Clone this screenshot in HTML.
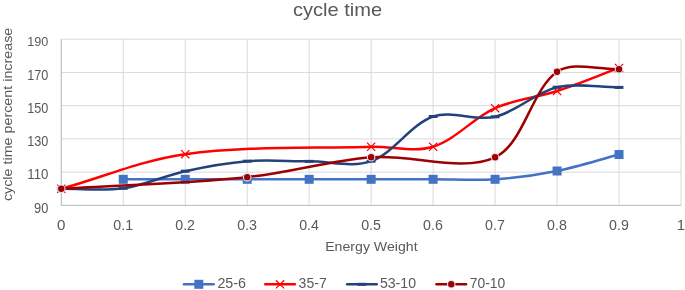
<!DOCTYPE html>
<html><head><meta charset="utf-8"><title>cycle time</title>
<style>
html,body{margin:0;padding:0;background:#fff;}
body{width:685px;height:290px;overflow:hidden;font-family:"Liberation Sans",sans-serif;}
svg{display:block;will-change:transform;}
</style></head><body>
<svg width="685" height="290" viewBox="0 0 685 290">
<rect width="685" height="290" fill="#ffffff"/>
<line x1="61.3" x2="681.0" y1="205.40" y2="205.40" stroke="#D9D9D9" stroke-width="1"/>
<line x1="61.3" x2="681.0" y1="172.16" y2="172.16" stroke="#D9D9D9" stroke-width="1"/>
<line x1="61.3" x2="681.0" y1="138.92" y2="138.92" stroke="#D9D9D9" stroke-width="1"/>
<line x1="61.3" x2="681.0" y1="105.68" y2="105.68" stroke="#D9D9D9" stroke-width="1"/>
<line x1="61.3" x2="681.0" y1="72.44" y2="72.44" stroke="#D9D9D9" stroke-width="1"/>
<line x1="61.3" x2="681.0" y1="39.20" y2="39.20" stroke="#D9D9D9" stroke-width="1"/>
<line x1="61.30" x2="61.30" y1="39.2" y2="205.4" stroke="#D9D9D9" stroke-width="1"/>
<line x1="123.27" x2="123.27" y1="39.2" y2="205.4" stroke="#D9D9D9" stroke-width="1"/>
<line x1="185.24" x2="185.24" y1="39.2" y2="205.4" stroke="#D9D9D9" stroke-width="1"/>
<line x1="247.21" x2="247.21" y1="39.2" y2="205.4" stroke="#D9D9D9" stroke-width="1"/>
<line x1="309.18" x2="309.18" y1="39.2" y2="205.4" stroke="#D9D9D9" stroke-width="1"/>
<line x1="371.15" x2="371.15" y1="39.2" y2="205.4" stroke="#D9D9D9" stroke-width="1"/>
<line x1="433.12" x2="433.12" y1="39.2" y2="205.4" stroke="#D9D9D9" stroke-width="1"/>
<line x1="495.09" x2="495.09" y1="39.2" y2="205.4" stroke="#D9D9D9" stroke-width="1"/>
<line x1="557.06" x2="557.06" y1="39.2" y2="205.4" stroke="#D9D9D9" stroke-width="1"/>
<line x1="619.03" x2="619.03" y1="39.2" y2="205.4" stroke="#D9D9D9" stroke-width="1"/>
<line x1="681.00" x2="681.00" y1="39.2" y2="205.4" stroke="#D9D9D9" stroke-width="1"/>
<line x1="61.30" x2="681.00" y1="205.40" y2="205.40" stroke="#BFBFBF" stroke-width="1"/>
<line x1="61.30" x2="61.30" y1="39.20" y2="205.40" stroke="#BFBFBF" stroke-width="1"/>
<path d="M123.27,179.31 C143.93,179.31 164.58,179.31 185.24,179.31 C205.90,179.31 226.55,179.31 247.21,179.31 C267.87,179.31 288.52,179.31 309.18,179.31 C329.84,179.31 350.49,179.31 371.15,179.31 C391.81,179.31 412.46,179.31 433.12,179.31 C453.78,179.31 474.53,180.69 495.09,179.31 C515.84,177.92 536.66,175.07 557.06,171.00 C577.98,166.82 598.37,160.03 619.03,154.54" fill="none" stroke="#4472C4" stroke-width="2.5" stroke-linecap="round" stroke-linejoin="round"/>
<rect x="118.77" y="174.81" width="9" height="9" fill="#4472C4"/>
<rect x="180.74" y="174.81" width="9" height="9" fill="#4472C4"/>
<rect x="242.71" y="174.81" width="9" height="9" fill="#4472C4"/>
<rect x="304.68" y="174.81" width="9" height="9" fill="#4472C4"/>
<rect x="366.65" y="174.81" width="9" height="9" fill="#4472C4"/>
<rect x="428.62" y="174.81" width="9" height="9" fill="#4472C4"/>
<rect x="490.59" y="174.81" width="9" height="9" fill="#4472C4"/>
<rect x="552.56" y="166.50" width="9" height="9" fill="#4472C4"/>
<rect x="614.53" y="150.04" width="9" height="9" fill="#4472C4"/>
<path d="M61.30,188.78 C102.61,177.26 143.01,159.94 185.24,154.21 C246.30,145.92 309.17,148.60 371.15,146.73 C391.79,146.11 414.15,152.63 433.12,146.73 C455.46,139.78 473.12,118.04 495.09,108.17 C514.44,99.48 536.70,97.66 557.06,91.05 C578.01,84.26 598.37,75.65 619.03,67.95" fill="none" stroke="#FF0000" stroke-width="2.5" stroke-linecap="round" stroke-linejoin="round"/>
<path d="M57.20,184.68 l8.2,8.2 m0,-8.2 l-8.2,8.2" stroke="#FF0000" stroke-width="1.25" fill="none"/>
<path d="M181.14,150.11 l8.2,8.2 m0,-8.2 l-8.2,8.2" stroke="#FF0000" stroke-width="1.25" fill="none"/>
<path d="M367.05,142.63 l8.2,8.2 m0,-8.2 l-8.2,8.2" stroke="#FF0000" stroke-width="1.25" fill="none"/>
<path d="M429.02,142.63 l8.2,8.2 m0,-8.2 l-8.2,8.2" stroke="#FF0000" stroke-width="1.25" fill="none"/>
<path d="M490.99,104.07 l8.2,8.2 m0,-8.2 l-8.2,8.2" stroke="#FF0000" stroke-width="1.25" fill="none"/>
<path d="M552.96,86.95 l8.2,8.2 m0,-8.2 l-8.2,8.2" stroke="#FF0000" stroke-width="1.25" fill="none"/>
<path d="M614.93,63.85 l8.2,8.2 m0,-8.2 l-8.2,8.2" stroke="#FF0000" stroke-width="1.25" fill="none"/>
<path d="M61.30,188.78 C81.96,188.61 102.99,191.16 123.27,188.28 C144.31,185.29 164.34,175.73 185.24,171.16 C205.65,166.70 226.42,162.84 247.21,161.19 C267.73,159.57 288.52,161.36 309.18,161.36 C329.84,161.36 352.65,167.89 371.15,161.19 C393.96,152.93 410.31,124.65 433.12,116.48 C451.62,109.86 475.49,121.44 495.09,116.82 C516.81,111.69 535.34,92.39 557.06,87.23 C576.66,82.58 598.37,87.34 619.03,87.40" fill="none" stroke="#23427C" stroke-width="2.5" stroke-linecap="round" stroke-linejoin="round"/>
<rect x="56.90" y="187.28" width="8.8" height="3.0" fill="#23427C"/>
<rect x="118.87" y="186.78" width="8.8" height="3.0" fill="#23427C"/>
<rect x="180.84" y="169.66" width="8.8" height="3.0" fill="#23427C"/>
<rect x="242.81" y="159.69" width="8.8" height="3.0" fill="#23427C"/>
<rect x="304.78" y="159.86" width="8.8" height="3.0" fill="#23427C"/>
<rect x="366.75" y="159.69" width="8.8" height="3.0" fill="#23427C"/>
<rect x="428.72" y="114.98" width="8.8" height="3.0" fill="#23427C"/>
<rect x="490.69" y="115.32" width="8.8" height="3.0" fill="#23427C"/>
<rect x="552.66" y="85.73" width="8.8" height="3.0" fill="#23427C"/>
<rect x="614.63" y="85.90" width="8.8" height="3.0" fill="#23427C"/>
<path d="M61.30,188.78 C123.27,184.90 185.51,183.43 247.21,177.15 C288.79,172.91 329.57,160.53 371.15,157.20 C412.20,153.91 461.63,172.66 495.09,157.29 C523.60,144.18 531.03,90.27 557.06,71.78 C572.35,60.91 598.37,70.06 619.03,69.20" fill="none" stroke="#9E0000" stroke-width="2.5" stroke-linecap="round" stroke-linejoin="round"/>
<circle cx="61.30" cy="188.78" r="3.75" fill="#9E0000" stroke="#DDE3F4" stroke-width="1.1"/>
<circle cx="247.21" cy="177.15" r="3.75" fill="#9E0000" stroke="#DDE3F4" stroke-width="1.1"/>
<circle cx="371.15" cy="157.20" r="3.75" fill="#9E0000" stroke="#DDE3F4" stroke-width="1.1"/>
<circle cx="495.09" cy="157.29" r="3.75" fill="#9E0000" stroke="#DDE3F4" stroke-width="1.1"/>
<circle cx="557.06" cy="71.78" r="3.75" fill="#9E0000" stroke="#DDE3F4" stroke-width="1.1"/>
<circle cx="619.03" cy="69.20" r="3.75" fill="#9E0000" stroke="#DDE3F4" stroke-width="1.1"/>
<text x="292.90" y="15.60" font-size="17.7" textLength="89.30" lengthAdjust="spacingAndGlyphs" fill="#595959" font-family="Liberation Sans, sans-serif" >cycle time</text>
<text x="34.10" y="212.80" font-size="14.0" textLength="14.30" lengthAdjust="spacingAndGlyphs" fill="#595959" font-family="Liberation Sans, sans-serif" >90</text>
<text x="27.30" y="179.20" font-size="14.0" textLength="21.10" lengthAdjust="spacingAndGlyphs" fill="#595959" font-family="Liberation Sans, sans-serif" >110</text>
<text x="27.30" y="146.00" font-size="14.0" textLength="21.10" lengthAdjust="spacingAndGlyphs" fill="#595959" font-family="Liberation Sans, sans-serif" >130</text>
<text x="27.30" y="112.90" font-size="14.0" textLength="21.10" lengthAdjust="spacingAndGlyphs" fill="#595959" font-family="Liberation Sans, sans-serif" >150</text>
<text x="27.30" y="79.90" font-size="14.0" textLength="21.10" lengthAdjust="spacingAndGlyphs" fill="#595959" font-family="Liberation Sans, sans-serif" >170</text>
<text x="27.30" y="46.10" font-size="13.2" textLength="21.10" lengthAdjust="spacingAndGlyphs" fill="#595959" font-family="Liberation Sans, sans-serif" >190</text>
<text x="57.00" y="230.00" font-size="14.2" textLength="8.40" lengthAdjust="spacingAndGlyphs" fill="#595959" font-family="Liberation Sans, sans-serif" >0</text>
<text x="113.27" y="230.00" font-size="14.2" textLength="19.80" lengthAdjust="spacingAndGlyphs" fill="#595959" font-family="Liberation Sans, sans-serif" >0.1</text>
<text x="175.24" y="230.00" font-size="14.2" textLength="19.80" lengthAdjust="spacingAndGlyphs" fill="#595959" font-family="Liberation Sans, sans-serif" >0.2</text>
<text x="237.21" y="230.00" font-size="14.2" textLength="19.80" lengthAdjust="spacingAndGlyphs" fill="#595959" font-family="Liberation Sans, sans-serif" >0.3</text>
<text x="299.18" y="230.00" font-size="14.2" textLength="19.80" lengthAdjust="spacingAndGlyphs" fill="#595959" font-family="Liberation Sans, sans-serif" >0.4</text>
<text x="361.15" y="230.00" font-size="14.2" textLength="19.80" lengthAdjust="spacingAndGlyphs" fill="#595959" font-family="Liberation Sans, sans-serif" >0.5</text>
<text x="423.12" y="230.00" font-size="14.2" textLength="19.80" lengthAdjust="spacingAndGlyphs" fill="#595959" font-family="Liberation Sans, sans-serif" >0.6</text>
<text x="485.09" y="230.00" font-size="14.2" textLength="19.80" lengthAdjust="spacingAndGlyphs" fill="#595959" font-family="Liberation Sans, sans-serif" >0.7</text>
<text x="547.06" y="230.00" font-size="14.2" textLength="19.80" lengthAdjust="spacingAndGlyphs" fill="#595959" font-family="Liberation Sans, sans-serif" >0.8</text>
<text x="609.03" y="230.00" font-size="14.2" textLength="19.80" lengthAdjust="spacingAndGlyphs" fill="#595959" font-family="Liberation Sans, sans-serif" >0.9</text>
<text x="676.70" y="230.00" font-size="14.2" textLength="8.40" lengthAdjust="spacingAndGlyphs" fill="#595959" font-family="Liberation Sans, sans-serif" >1</text>
<text x="325.20" y="251.10" font-size="13.5" textLength="92.40" lengthAdjust="spacingAndGlyphs" fill="#595959" font-family="Liberation Sans, sans-serif" >Energy Weight</text>
<g transform="translate(11.9,200.5) rotate(-90)"><text x="-0.60" y="0.00" font-size="13.2" textLength="173.40" lengthAdjust="spacingAndGlyphs" fill="#595959" font-family="Liberation Sans, sans-serif" >cycle time percent increase</text></g>
<line x1="183.9" x2="213.7" y1="284.3" y2="284.3" stroke="#4472C4" stroke-width="2.5" stroke-linecap="round"/><rect x="194.30" y="279.80" width="9" height="9" fill="#4472C4"/><text x="217.40" y="288.20" font-size="14.2" textLength="28.60" lengthAdjust="spacingAndGlyphs" fill="#595959" font-family="Liberation Sans, sans-serif" >25-6</text>
<line x1="265.3" x2="294.8" y1="284.3" y2="284.3" stroke="#FF0000" stroke-width="2.5" stroke-linecap="round"/><path d="M275.95,280.20 l8.2,8.2 m0,-8.2 l-8.2,8.2" stroke="#FF0000" stroke-width="1.25" fill="none"/><text x="298.60" y="288.20" font-size="14.2" textLength="28.10" lengthAdjust="spacingAndGlyphs" fill="#595959" font-family="Liberation Sans, sans-serif" >35-7</text>
<line x1="347.2" x2="376.7" y1="284.3" y2="284.3" stroke="#23427C" stroke-width="2.5" stroke-linecap="round"/><rect x="357.55" y="282.80" width="8.8" height="3.0" fill="#23427C"/><text x="379.90" y="288.20" font-size="14.2" textLength="36.10" lengthAdjust="spacingAndGlyphs" fill="#595959" font-family="Liberation Sans, sans-serif" >53-10</text>
<line x1="436.5" x2="466.0" y1="284.3" y2="284.3" stroke="#9E0000" stroke-width="2.5" stroke-linecap="round"/><circle cx="451.25" cy="284.30" r="3.75" fill="#9E0000" stroke="#DDE3F4" stroke-width="1.1"/><text x="469.80" y="288.20" font-size="14.2" textLength="35.50" lengthAdjust="spacingAndGlyphs" fill="#595959" font-family="Liberation Sans, sans-serif" >70-10</text>
</svg>
</body></html>
